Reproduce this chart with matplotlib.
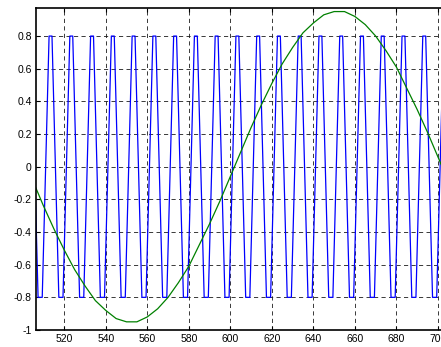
import matplotlib
matplotlib.use("Agg")
import matplotlib.pyplot as plt

# green reference curve, read every 5 units
sine_x = [505, 510, 515, 520, 525, 530, 535, 540, 545, 550, 555, 560, 565, 570,
          575, 580, 585, 590, 595, 600, 605, 610, 615, 620, 625, 630, 635, 640,
          645, 650, 655, 660, 665, 670, 675, 680, 685, 690, 695, 700, 705]
sine_y = [-0.09, -0.24, -0.38, -0.51, -0.63, -0.73, -0.82, -0.88, -0.93, -0.95,
          -0.95, -0.92, -0.87, -0.80, -0.71, -0.61, -0.48, -0.35, -0.21, -0.06,
          0.09, 0.24, 0.38, 0.51, 0.63, 0.73, 0.82, 0.88, 0.93, 0.95,
          0.95, 0.92, 0.87, 0.80, 0.71, 0.61, 0.48, 0.35, 0.21, 0.06, -0.09]

# blue switching wave: corner points (top start, top end, bottom start, bottom end)
wave_x = [502.7, 504.1, 507.4, 509.4,
          512.7, 514.1, 517.4, 519.4,
          522.7, 524.1, 527.4, 529.4,
          532.7, 534.1, 537.4, 539.4,
          542.7, 544.1, 547.4, 549.4,
          552.7, 554.1, 557.4, 559.4,
          562.7, 564.1, 567.4, 569.4,
          572.7, 574.1, 577.4, 579.4,
          582.7, 584.1, 587.4, 589.4,
          592.7, 594.1, 597.4, 599.4,
          602.7, 604.1, 607.4, 609.4,
          612.7, 614.1, 617.4, 619.4,
          622.7, 624.1, 627.4, 629.4,
          632.7, 634.1, 637.4, 639.4,
          642.7, 644.1, 647.4, 649.4,
          652.7, 654.1, 657.4, 659.4,
          662.7, 664.1, 667.4, 669.4,
          672.7, 674.1, 677.4, 679.4,
          682.7, 684.1, 687.4, 689.4,
          692.7, 694.1, 697.4, 699.4,
          702.7, 704.1, 707.4, 709.4]
wave_y = [0.8, 0.8, -0.8, -0.8] * 21

xticks = [520, 540, 560, 580, 600, 620, 640, 660, 680, 700]
yticks = [-1, -0.8, -0.6, -0.4, -0.2, 0, 0.2, 0.4, 0.6, 0.8]
ytick_labels = ["-1", "-0.8", "-0.6", "-0.4", "-0.2", "0", "0.2", "0.4", "0.6", "0.8"]

plt.rcParams['font.family'] = ['Liberation Sans', 'DejaVu Sans']

fig = plt.figure(figsize=(4.41, 3.47), dpi=100)
# axes run past the right edge of the picture, as in the cropped original
ax = fig.add_axes([36 / 441, 17 / 347, 422.7 / 441, 321.7 / 347])

ax.plot(wave_x, wave_y, color=(0, 0, 1), linewidth=0.9)
ax.plot(sine_x, sine_y, color=(0, 0.5, 0), linewidth=0.9)

ax.set_xlim(506.4, 710)
ax.set_ylim(-1, 0.97)
ax.set_xticks(xticks)
ax.set_yticks(yticks)
ax.set_yticklabels(ytick_labels)

ax.grid(True, color="0.1", linestyle=(0, (5, 4)), linewidth=0.6)
ax.tick_params(direction="in", length=3, width=0.8, labelsize=7.5, pad=3,
               top=True, right=True)
for side in ["left", "bottom", "top", "right"]:
    ax.spines[side].set_linewidth(1.2)

fig.savefig("out.png", dpi=100)
